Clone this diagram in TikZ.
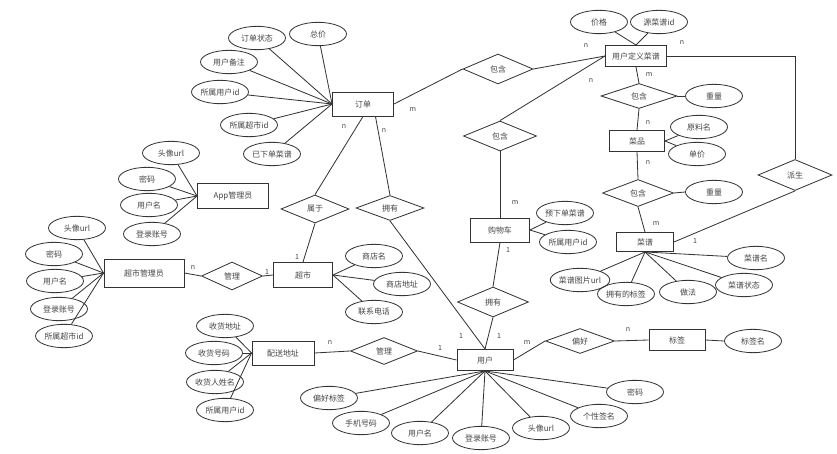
\documentclass[tikz,border=0pt]{standalone}
\usepackage{fontspec}
\setmainfont{Noto Sans CJK SC}
\usepackage{xcolor}
\usetikzlibrary{shapes.geometric}
\definecolor{linegray}{HTML}{333333}
\definecolor{txtgray}{HTML}{444444}

\begin{document}
\begin{tikzpicture}[x=0.03cm, y=-0.03cm,
  every node/.style={font=\fontsize{6.8}{8}\selectfont, text=txtgray},
  entity/.style={draw=linegray, rectangle, line width=0.8pt, inner sep=0pt},
  attr/.style={draw=linegray, ellipse, line width=0.7pt, minimum width=1.71cm, minimum height=0.7cm, inner sep=0pt},
  rel/.style={draw=linegray, diamond, line width=0.7pt, inner sep=0pt},
  card/.style={font=\fontsize{6}{7}\selectfont},
  conn/.style={draw=linegray, line width=0.7pt}]
  \useasboundingbox (0,0) rectangle (837,454);

  % Entites
  \node[entity, minimum width=1.83cm, minimum height=0.72cm] (dingdan) at (363,104) {订单};
  \node[entity, minimum width=1.83cm, minimum height=0.63cm] (yhcp) at (636,56) {用户定义菜谱};
  \node[entity, minimum width=1.65cm, minimum height=0.63cm] (caipin) at (637,141) {菜品};
  \node[entity, minimum width=1.71cm, minimum height=0.57cm] (caipu) at (645,242) {菜谱};
  \node[entity, minimum width=1.77cm, minimum height=0.72cm] (gwc) at (500,230) {购物车};
  \node[entity, minimum width=2.13cm, minimum height=0.75cm] (appadmin) at (233,196) {App管理员};
  \node[entity, minimum width=2.4cm, minimum height=0.84cm] (csadmin) at (144,273) {超市管理员};
  \node[entity, minimum width=1.77cm, minimum height=0.75cm] (chaoshi) at (303,275) {超市};
  \node[entity, minimum width=1.86cm, minimum height=0.72cm] (psdz) at (283,353) {配送地址};
  \node[entity, minimum width=1.68cm, minimum height=0.63cm] (yonghu) at (485,360) {用户};
  \node[entity, minimum width=1.68cm, minimum height=0.63cm] (biaoqian) at (677,340) {标签};

  % Relations
  \node[rel, minimum width=2.1cm, minimum height=0.9cm] (bh1) at (498,69) {包含};
  \node[rel, minimum width=2.19cm, minimum height=0.9cm] (bh2) at (500,136) {包含};
  \node[rel, minimum width=2.28cm, minimum height=0.75cm] (bh3) at (639,96) {包含};
  \node[rel, minimum width=2.13cm, minimum height=0.81cm] (bh4) at (638,193) {包含};
  \node[rel, minimum width=2.22cm, minimum height=0.93cm] (paisheng) at (795,175) {派生};
  \node[rel, minimum width=2.04cm, minimum height=0.84cm] (shuyu) at (315,209) {属于};
  \node[rel, minimum width=2.04cm, minimum height=0.75cm] (yongyou1) at (390,208) {拥有};
  \node[rel, minimum width=2.13cm, minimum height=0.9cm] (yongyou2) at (493,302) {拥有};
  \node[rel, minimum width=1.83cm, minimum height=0.84cm] (guanli1) at (232,276) {管理};
  \node[rel, minimum width=2.01cm, minimum height=0.81cm] (guanli2) at (384,351) {管理};
  \node[rel, minimum width=2.07cm, minimum height=0.75cm] (pianhao) at (580,341) {偏好};

  % Attributs订单
  \node[attr] (dd1) at (257,38) {订单状态};
  \node[attr] (dd2) at (318,34) {总价};
  \node[attr] (dd3) at (229,62) {用户备注};
  \node[attr] (dd4) at (220,92) {所属用户id};
  \node[attr] (dd5) at (249,125) {所属超市id};
  \node[attr] (dd6) at (272,154) {已下单菜谱};
  \foreach \a in {dd1,dd2,dd3,dd4,dd5,dd6} \draw[conn] (\a) -- (dingdan.west);

  % Attributs 用户定义菜谱, 菜品
  \node[attr] (yc1) at (599,22) {价格};
  \node[attr] (yc2) at (659,22) {源菜谱id};
  \foreach \a in {yc1,yc2} \draw[conn] (\a) -- (yhcp.north);
  \node[attr] (zl1) at (714,96) {重量};
  \node[attr] (cp1) at (699,127) {原料名};
  \node[attr] (cp2) at (697,154) {单价};
  \foreach \a in {cp1,cp2} \draw[conn] (\a) -- (caipin.east);
  \node[attr] (zl2) at (714,192) {重量};

  % Attributs 菜谱
  \node[attr] (cu1) at (756,258) {菜谱名};
  \node[attr] (cu2) at (580,280) {菜谱图片url};
  \node[attr] (cu3) at (626,294) {拥有的标签};
  \node[attr] (cu4) at (688,292) {做法};
  \node[attr] (cu5) at (744,285) {菜谱状态};
  \foreach \a in {cu1,cu2,cu3,cu4,cu5} \draw[conn] (\a) -- (caipu.south);

  % Attributs 购物车
  \node[attr] (gc1) at (565,213) {预下单菜谱};
  \node[attr] (gc2) at (568,242) {所属用户id};
  \foreach \a in {gc1,gc2} \draw[conn] (\a) -- (gwc.east);

  % Attributs App管理员
  \node[attr] (ap1) at (171,153) {头像url};
  \node[attr] (ap2) at (147,179) {密码};
  \node[attr] (ap3) at (149,205) {用户名};
  \node[attr] (ap4) at (152,234) {登录账号};
  \foreach \a in {ap1,ap2,ap3,ap4} \draw[conn] (\a) -- (appadmin.west);

  % Attributs 超市管理员
  \node[attr] (ca1) at (77,228) {头像url};
  \node[attr] (ca2) at (54,254) {密码};
  \node[attr] (ca3) at (55,281) {用户名};
  \node[attr] (ca4) at (59,309) {登录账号};
  \node[attr] (ca5) at (64,336) {所属超市id};
  \foreach \a in {ca1,ca2,ca3,ca4,ca5} \draw[conn] (\a) -- (csadmin.west);

  % Attributs 超市
  \node[attr] (cs1) at (374,256) {商店名};
  \node[attr] (cs2) at (402,284) {商店地址};
  \node[attr] (cs3) at (374,312) {联系电话};
  \foreach \a in {cs1,cs2,cs3} \draw[conn] (\a) -- (chaoshi.east);

  % Attributs 配送地址
  \node[attr] (ps1) at (225,326) {收货地址};
  \node[attr] (ps2) at (214,353) {收货号码};
  \node[attr] (ps3) at (215,382) {收货人姓名};
  \node[attr] (ps4) at (225,410) {所属用户id};
  \foreach \a in {ps1,ps2,ps3,ps4} \draw[conn] (\a) -- (psdz.west);

  % Attributs 用户, 标签
  \node[attr] (yh1) at (329,398) {偏好标签};
  \node[attr] (yh2) at (361,423) {手机号码};
  \node[attr] (yh3) at (420,433) {用户名};
  \node[attr] (yh4) at (481,438) {登录账号};
  \node[attr] (yh5) at (541,428) {头像url};
  \node[attr] (yh6) at (599,416) {个性签名};
  \node[attr] (yh7) at (635,392) {密码};
  \foreach \a in {yh1,yh2,yh3,yh4,yh5,yh6,yh7} \draw[conn] (\a) -- (yonghu.south);
  \node[attr] (bq1) at (753,341) {标签名};

  % Liens
  \draw[conn] (dingdan.east) -- (bh1.west);
  \draw[conn] (bh1.east) -- (yhcp.west);
  \draw[conn] (bh2.north) -- (yhcp.west);
  \draw[conn] (bh2.south) -- (gwc.north);
  \draw[conn] (yhcp.south) -- (bh3.north);
  \draw[conn] (bh3.south) -- (caipin.north);
  \draw[conn] (bh3.east) -- (zl1.west);
  \draw[conn] (caipin.south) -- (bh4.north);
  \draw[conn] (bh4.south) -- (caipu.north);
  \draw[conn] (bh4.east) -- (zl2.west);
  \draw[conn] (yhcp.east) -| (paisheng.north);
  \draw[conn] (paisheng.south) -- (caipu.east);
  \draw[conn] (dingdan.south) -- (shuyu.north);
  \draw[conn] (dingdan.-45) -- (yongyou1.north);
  \draw[conn] (shuyu.south) -- (chaoshi.north);
  \draw[conn] (yongyou1.south) -- (yonghu.north);
  \draw[conn] (gwc.south) -- (yongyou2.north);
  \draw[conn] (yongyou2.south) -- (yonghu.north);
  \draw[conn] (csadmin.east) -- (guanli1.west);
  \draw[conn] (guanli1.east) -- (chaoshi.west);
  \draw[conn] (psdz.east) -- (guanli2.west);
  \draw[conn] (guanli2.east) -- (yonghu.west);
  \draw[conn] (yonghu.east) -- (pianhao.west);
  \draw[conn] (pianhao.east) -- (biaoqian.west);
  \draw[conn] (biaoqian.east) -- (bq1.west);

  % Cardinalites
  \node[card] (k1) at (413,110) {m};
  \node[card] (k2) at (586,46) {n};
  \node[card] (k3) at (591,81) {n};
  \node[card] (k4) at (515,203) {m};
  \node[card] (k5) at (649,75) {m};
  \node[card] (k6) at (648,123) {n};
  \node[card] (k7) at (648,163) {n};
  \node[card] (k8) at (656,224) {m};
  \node[card] (k9) at (682,43) {n};
  \node[card] (k10) at (695,241) {1};
  \node[card] (k11) at (344,127) {n};
  \node[card] (k12) at (384,131) {n};
  \node[card] (k13) at (297,257) {1};
  \node[card] (k14) at (461,336) {1};
  \node[card] (k15) at (508,250) {1};
  \node[card] (k16) at (499,336) {1};
  \node[card] (k17) at (193,268) {n};
  \node[card] (k18) at (267,272) {1};
  \node[card] (k19) at (330,343) {n};
  \node[card] (k20) at (440,348) {1};
  \node[card] (k21) at (527,343) {m};
  \node[card] (k22) at (628,330) {n};
\end{tikzpicture}
\end{document}
